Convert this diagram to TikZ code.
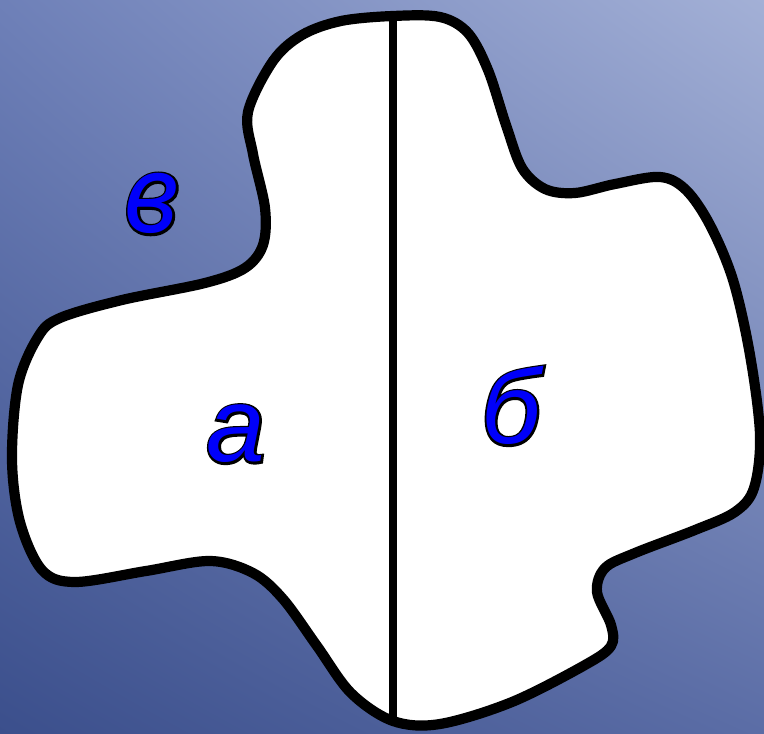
\documentclass[tikz,border=0pt]{standalone}
\usepackage{fontspec}
\usepackage{xcolor}
\usepackage{tikz}
\usetikzlibrary{shadings}
\newfontfamily\lblfont{Liberation Sans}
\newfontfamily\lblstroke{Liberation Sans}[FakeBold=4]
\newfontfamily\curfont{Noto Sans}
\newfontfamily\curstroke{Noto Sans}[FakeBold=4]
\definecolor{bgtl}{RGB}{110,128,184}
\definecolor{bgtr}{RGB}{163,176,214}
\definecolor{bgbl}{RGB}{59,79,140}
\definecolor{bgbr}{RGB}{91,109,166}
\definecolor{letterblue}{RGB}{0,0,250}
\newcommand{\letterlabel}[1]{\rlap{\color{black}\lblstroke\fontsize{30}{36}\selectfont\itshape #1}{\color{letterblue}\lblfont\fontsize{30}{36}\selectfont\itshape #1}}
\newcommand{\cursivelabel}[1]{\rlap{\color{black}\curstroke\fontsize{31}{36}\selectfont\itshape #1}{\color{letterblue}\curfont\fontsize{31}{36}\selectfont\itshape #1}}
\tikzset{
  outline/.style={draw=black, fill=white, line width=2.9pt, line join=round},
  divider/.style={draw=black, line width=2.5pt},
  lbl/.style={inner sep=0pt, anchor=base},
}
\begin{document}
\begin{tikzpicture}[x=0.01cm, y=-0.01cm]
\useasboundingbox (0,0) rectangle (764,734);
\shade[upper left=bgtl, upper right=bgtr, lower left=bgbl, lower right=bgbr] (0,0) rectangle (764,734);
\coordinate (top) at (393,16);
\coordinate (bottom) at (393,721);
\draw[outline] plot[smooth cycle, tension=0.55] coordinates {
  (393,16) (440,17) (468,33) (488,70) (506,125) (522,168) (545,189)
  (575,193) (615,184) (660,177) (686,190) (710,225) (733,280) (750,355)
  (760,435) (754,488) (735,512) (695,530) (635,553) (605,568) (597,592)
  (611,625) (611,646) (585,665) (512,702) (440,724) (393,721)
  (351,693) (317,646) (283,599) (253,573) (210,561) (146,571) (75,582)
  (42,570) (20,522) (12,460) (18,385) (38,337) (60,318) (122,300)
  (205,283) (245,268) (263,245) (265,208) (253,154) (248,112) (273,61)
  (302,35) (341,21)};
\draw[divider] (top) -- (bottom);
\node[lbl] (v) at (152,233) {\cursivelabel{в}};
\node[lbl] (a) at (236,462) {\letterlabel{а}};
\node[lbl] (b) at (511,444) {\letterlabel{б}};
\end{tikzpicture}
\end{document}
